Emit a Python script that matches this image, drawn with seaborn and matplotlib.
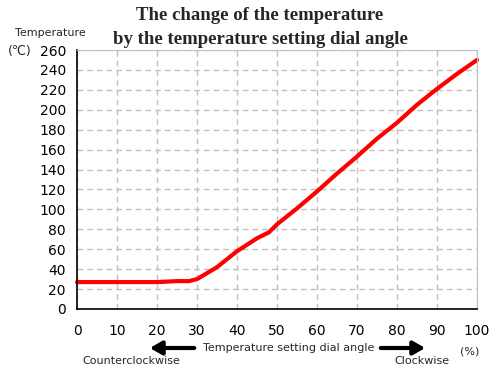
import numpy as np
import pandas as pd
import matplotlib
matplotlib.use("Agg")
import matplotlib.pyplot as plt
import seaborn as sns

dial_angle = [0, 5, 10, 15, 20, 25, 28, 30, 35, 40, 45, 48, 50, 55, 60, 65, 70, 75, 80, 85, 90, 95, 100]
temperature = [27, 27, 27, 27, 27, 28, 28, 30, 42, 58, 71, 77, 85, 101, 118, 136, 153, 171, 187, 205, 221, 236, 250]
x_ticks = list(range(0, 101, 10))
y_ticks = list(range(0, 261, 20))

df = pd.DataFrame({"angle": dial_angle, "temp": temperature})

sns.set_style("white")
plt.rcParams["font.family"] = ["DejaVu Sans"]

fig = plt.figure(figsize=(5.01, 3.74), dpi=100)
ax = fig.add_axes([77 / 501, 1 - 309 / 374, 400 / 501, 259 / 374])

sns.lineplot(data=df, x="angle", y="temp", ax=ax, color="#ff0000", linewidth=3, clip_on=False)

ax.set_xlim(0, 100)
ax.set_ylim(0, 260)
ax.set_xticks(x_ticks)
ax.set_yticks(y_ticks)
ax.grid(True, color="#c0c0c0", linestyle=(0, (4, 3)), linewidth=1)
ax.tick_params(axis="both", direction="in", length=4, width=1, colors="black", labelsize=10)
ax.tick_params(axis="x", pad=11)
ax.tick_params(axis="y", pad=8)
ax.set_xlabel("")
ax.set_ylabel("")
for side in ["top", "right"]:
    ax.spines[side].set_color("#c0c0c0")
for side in ["left", "bottom"]:
    ax.spines[side].set_color("black")
    ax.spines[side].set_linewidth(1.2)

fig.text(260 / 501, 1 - 15 / 374, "The change of the temperature", ha="center", va="center",
         fontsize=13.5, fontweight="bold", family="Liberation Serif")
fig.text(260 / 501, 1 - 39 / 374, "by the temperature setting dial angle", ha="center", va="center",
         fontsize=13.5, fontweight="bold", family="Liberation Serif")
fig.text(50 / 501, 1 - 33 / 374, "Temperature", ha="center", va="center", fontsize=8)
fig.text(20 / 501, 1 - 51 / 374, "(\u2103)", ha="center", va="center", fontsize=9)

fig.text(289 / 501, 1 - 348 / 374, "Temperature setting dial angle", ha="center", va="center", fontsize=8)
fig.text(131 / 501, 1 - 361 / 374, "Counterclockwise", ha="center", va="center", fontsize=8)
fig.text(422 / 501, 1 - 361 / 374, "Clockwise", ha="center", va="center", fontsize=8)
fig.text(470 / 501, 1 - 352 / 374, "(%)", ha="center", va="center", fontsize=8)

fig.add_artist(matplotlib.patches.FancyArrowPatch((197 / 501, 1 - 348 / 374), (147 / 501, 1 - 348 / 374),
               transform=fig.transFigure, arrowstyle="-|>,head_length=7,head_width=4",
               mutation_scale=1, linewidth=3, color="black"))
fig.add_artist(matplotlib.patches.FancyArrowPatch((378 / 501, 1 - 348 / 374), (428 / 501, 1 - 348 / 374),
               transform=fig.transFigure, arrowstyle="-|>,head_length=7,head_width=4",
               mutation_scale=1, linewidth=3, color="black"))

fig.savefig("out.png", dpi=100)
